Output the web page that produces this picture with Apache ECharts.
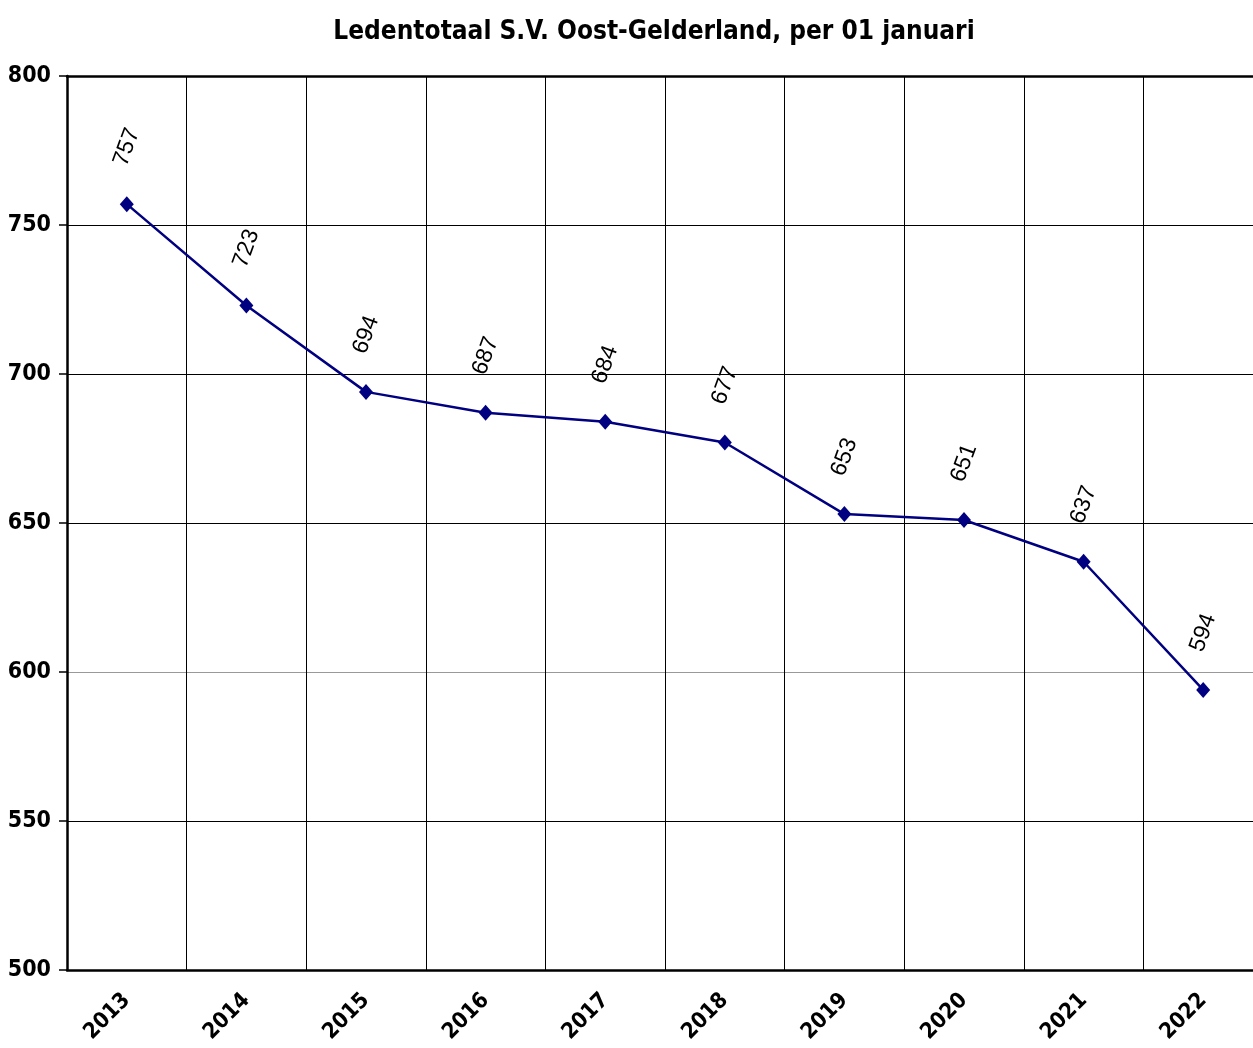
<!DOCTYPE html>
<html>
<head>
<meta charset="utf-8">
<script src="https://cdn.jsdelivr.net/npm/echarts@6/dist/echarts.min.js"></script>
<style>
html,body{margin:0;padding:0;background:#fff;overflow:hidden;width:1253px;height:1048px;}
#chart{width:1263px;height:1048px;}
</style>
</head>
<body>
<div id="chart"></div>
<script>
const titleText = 'Ledentotaal S.V. Oost-Gelderland, per 01 januari';
const years = ['2013','2014','2015','2016','2017','2018','2019','2020','2021','2022'];
const members = [757, 723, 694, 687, 684, 677, 653, 651, 637, 594];
const yMin = 500, yMax = 800, yStep = 50;

const narrow = '"Liberation Sans Narrow", "DejaVu Sans Condensed", "Liberation Sans", sans-serif';
const chart = echarts.init(document.getElementById('chart'));
chart.setOption({
  animation: false,
  backgroundColor: '#fff',
  title: {
    text: titleText, left: 649, textAlign: 'center', top: 14,
    textStyle: { fontFamily: narrow, fontWeight: 'bold', fontSize: 26, color: '#000' }
  },
  grid: { left: 67, top: 76, right: 0, bottom: 78, containLabel: false },
  xAxis: [{
    type: 'category', data: years, boundaryGap: true,
    axisLine: { show: true, lineStyle: { color: '#000', width: 2.5 } },
    axisTick: { show: false },
    splitLine: { show: true, lineStyle: { color: '#000', width: 1 } },
    axisLabel: { interval: 0, rotate: 45, margin: 27, color: '#000',
      fontFamily: narrow, fontWeight: 'bold', fontSize: 22 }
  }, {
    type: 'category', data: years, position: 'top',
    axisLine: { show: true, lineStyle: { color: '#000', width: 2.5 } },
    axisTick: { show: false }, axisLabel: { show: false }, splitLine: { show: false }
  }],
  yAxis: {
    type: 'value', min: yMin, max: yMax, interval: yStep,
    axisLine: { show: true, lineStyle: { color: '#000', width: 2.5 } },
    axisTick: { show: true, inside: false, length: 8, lineStyle: { color: '#000', width: 1.5 } },
    splitLine: { show: true, lineStyle: { color: ['#000','#000','#999','#000','#000','#000','#000'], width: 1.2 } },
    axisLabel: { margin: 16, color: '#000', fontFamily: narrow, fontWeight: 'bold', fontSize: 23 }
  },
  series: [{
    type: 'line', data: members,
    symbol: 'diamond', symbolSize: [14, 16],
    lineStyle: { color: '#000080', width: 2.5 },
    itemStyle: { color: '#000080' },
    label: {
      show: true, position: 'top', distance: 49, rotate: 70,
      align: 'center', verticalAlign: 'middle',
      color: '#000', fontFamily: '"Liberation Sans", Arial, sans-serif', fontSize: 23
    }
  }]
});
</script>
</body>
</html>
